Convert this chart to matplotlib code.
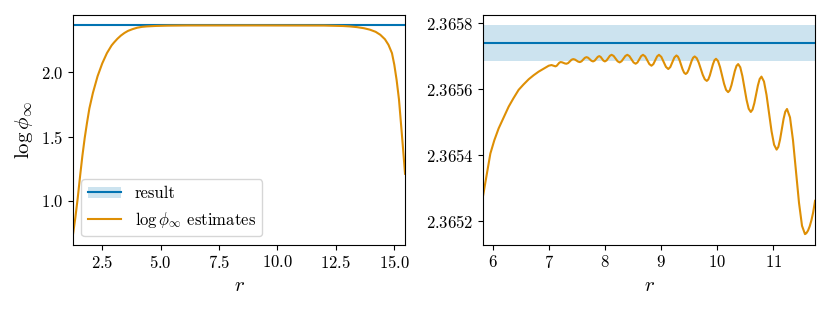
# log phi_inf estimates against r, with the converged result and its error band
import numpy as np
import matplotlib.pyplot as plt

plt.rcParams['font.family'] = 'cmr10'
plt.rcParams['mathtext.fontset'] = 'cm'
plt.rcParams['axes.formatter.use_mathtext'] = True
plt.rcParams['font.size'] = 12

# estimates: rising part
r_rise = [1.25, 1.35, 1.45, 1.55, 1.65, 1.75, 1.85, 1.95, 2.10, 2.30, 2.50, 2.70, 2.90,
          3.0, 3.15, 3.3, 3.45, 3.6, 3.8, 4.0, 4.2, 4.4, 4.6, 4.8, 5.0, 5.3, 5.6]
y_rise = [0.74, 0.87, 1.02, 1.19, 1.35, 1.49, 1.61, 1.72, 1.84, 1.97, 2.07, 2.15, 2.21,
          2.232, 2.262, 2.287, 2.307, 2.323, 2.337, 2.348, 2.3545, 2.3580, 2.3603, 2.3618,
          2.3629, 2.3641, 2.3649]

# oscillating part (the right panel window)
r_mid = [5.83, 5.90, 5.96, 6.03, 6.107, 6.20, 6.286, 6.37, 6.464, 6.55, 6.643, 6.73,
         6.82, 6.91, 7.00, 7.05, 7.12, 7.143, 7.165, 7.188,
         7.21, 7.237, 7.263, 7.290, 7.316, 7.346, 7.376, 7.406,
         7.436, 7.466, 7.495, 7.525, 7.554, 7.584, 7.614, 7.643,
         7.673, 7.702, 7.732, 7.761, 7.79, 7.818, 7.845, 7.873,
         7.90, 7.925, 7.95, 7.975, 8.00, 8.03, 8.06, 8.09,
         8.12, 8.156, 8.192, 8.227, 8.263, 8.297, 8.332, 8.366,
         8.40, 8.437, 8.474, 8.511, 8.548, 8.581, 8.614, 8.647,
         8.68, 8.718, 8.755, 8.793, 8.83, 8.864, 8.897, 8.931,
         8.964, 9.006, 9.047, 9.089, 9.13, 9.166, 9.203, 9.239,
         9.275, 9.3025, 9.330, 9.3575, 9.385, 9.4125,
         9.44, 9.4667, 9.4933, 9.52, 9.5467, 9.5733,
         9.60, 9.636, 9.672, 9.708, 9.744, 9.780,
         9.816, 9.8433, 9.8707, 9.898, 9.9253, 9.9527,
         9.98, 10.016, 10.052, 10.088, 10.124, 10.160,
         10.196, 10.2258, 10.2557, 10.2855, 10.3153, 10.3452,
         10.375, 10.4125, 10.45, 10.4875, 10.525, 10.5625,
         10.60, 10.6317, 10.6633, 10.695, 10.7267, 10.7583,
         10.79, 10.835, 10.88, 10.925, 10.97, 11.015,
         11.06, 11.0908, 11.1217, 11.1525, 11.1833, 11.2142,
         11.245, 11.2985, 11.352, 11.4055, 11.459, 11.5125,
         11.566, 11.59, 11.62, 11.65, 11.68, 11.71, 11.745]
y_mid = [2.365277, 2.365345, 2.365405, 2.365445, 2.365481, 2.365515, 2.365547, 2.365572,
         2.365598, 2.365614, 2.365630, 2.365642, 2.365653, 2.365662, 2.365671, 2.365673,
         2.365669, 2.365671, 2.3656755, 2.365680,
         2.365682, 2.3656813, 2.3656795, 2.3656777, 2.365677, 2.365679, 2.365684, 2.365689,
         2.365691, 2.3656897, 2.3656865, 2.3656833, 2.365682, 2.3656842, 2.3656895, 2.3656948,
         2.365697, 2.3656951, 2.3656905, 2.3656859, 2.365684, 2.3656863, 2.365692, 2.3656977,
         2.365700, 2.3656977, 2.365692, 2.3656863, 2.365684, 2.3656869, 2.365694, 2.3657011,
         2.365704, 2.3657006, 2.3656925, 2.3656844, 2.365681, 2.3656844, 2.3656925, 2.3657006,
         2.365704, 2.3657001, 2.3656905, 2.3656809, 2.365677, 2.3656809, 2.3656905, 2.3657001,
         2.365704, 2.3656992, 2.3656875, 2.3656758, 2.365671, 2.3656758, 2.3656875, 2.3656992,
         2.365704, 2.3656977, 2.3656825, 2.3656673, 2.365661, 2.365667, 2.3656815, 2.365696,
         2.365702, 2.3656982, 2.365688, 2.365674, 2.365660, 2.3656498,
         2.365646, 2.3656496, 2.3656592, 2.3656725, 2.3656858, 2.3656954,
         2.365699, 2.365694, 2.3656805, 2.365662, 2.3656435, 2.36563,
         2.365625, 2.3656295, 2.3656418, 2.3656585, 2.3656752, 2.3656875,
         2.365692, 2.3656852, 2.3656668, 2.3656415, 2.3656163, 2.3655978,
         2.365591, 2.3655967, 2.3656123, 2.3656335, 2.3656548, 2.3656703,
         2.365676, 2.3656663, 2.3656398, 2.3656035, 2.3655673, 2.3655407,
         2.365531, 2.3655382, 2.3655578, 2.3655845, 2.3656113, 2.3656308,
         2.365638, 2.3656232, 2.3655828, 2.3655275, 2.3654723, 2.3654318,
         2.365417, 2.3654252, 2.3654478, 2.3654785, 2.3655093, 2.3655318,
         2.365540, 2.3655146, 2.3654453, 2.3653505, 2.3652558, 2.3651864,
         2.365161, 2.365164, 2.365172, 2.365185, 2.365203, 2.365226, 2.365262]

# falling part
r_fall = [12.0, 12.5, 12.8, 13.1, 13.4, 13.7, 13.95, 14.2, 14.4, 14.6, 14.75, 14.9,
          15.0, 15.1, 15.2, 15.28, 15.36, 15.46]
y_fall = [2.3648, 2.3630, 2.3612, 2.3580, 2.3525, 2.3440, 2.333, 2.316, 2.293, 2.258,
          2.215, 2.150, 2.06, 1.94, 1.79, 1.62, 1.44, 1.21]

# final result and its uncertainty
result = 2.365739
result_err = 0.000054

blue = '#0173b2'
orange = '#de8f05'

r_all = np.array(r_rise + r_mid + r_fall)
y_all = np.array(y_rise + y_mid + y_fall)

fig, (ax1, ax2) = plt.subplots(1, 2, figsize=(8.3, 3.12), dpi=100)
fig.subplots_adjust(left=0.088, right=0.982, bottom=0.216, top=0.952, wspace=0.235)

def draw(ax, x, y):
    band = ax.fill_between([x[0], x[-1]], result - result_err, result + result_err,
                           color=blue, alpha=0.2, linewidth=0)
    line, = ax.plot([x[0], x[-1]], [result, result], color=blue, lw=1.5)
    est, = ax.plot(x, y, color=orange, lw=1.5)
    ax.set_xlim(x[0], x[-1])
    ax.set_xlabel(r'$r$', fontsize=15)
    return band, line, est

band, line, est = draw(ax1, r_all, y_all)
ax1.set_yticks([1.0, 1.5, 2.0])
ax1.set_ylabel(r'$\log\phi_\infty$', fontsize=15)
ax1.legend([(band, line), est], ['result', r'$\log\phi_\infty$ estimates'], loc='lower left')

draw(ax2, np.array(r_mid), np.array(y_mid))
ax2.set_xticks([6, 7, 8, 9, 10, 11])
ax2.set_yticks([2.3652, 2.3654, 2.3656, 2.3658])
ax2.ticklabel_format(axis='y', useOffset=False)

plt.savefig('out.png', dpi=100)
